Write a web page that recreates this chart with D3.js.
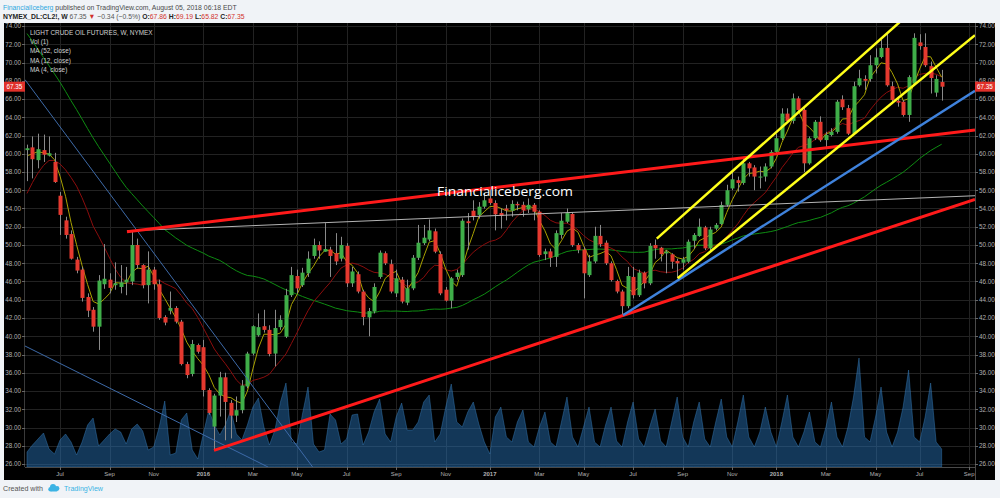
<!DOCTYPE html>
<html><head><meta charset="utf-8">
<script src="https://cdn.jsdelivr.net/npm/d3@7"></script>
<style>
html,body{margin:0;padding:0;background:#f0f3f7;}
svg{display:block;font-family:"Liberation Sans",Arial,sans-serif;}
</style></head><body>
<svg id="c" width="1000" height="498"></svg>
<script>
// ---------- DATA ----------
const firstBarDate = "2015-05-25"; // weekly bars (Mondays)
const open = [60.4,60.7,59.3,60.4,59.8,59.1,55.4,52.7,51.2,48.4,
47.3,44.3,42.9,41.05,45.7,46.2,45.6,45.4,45.9,46.0,
50.0,47.8,45.6,47.3,45.7,42.1,42.8,43.1,41.6,36.95,
35.86,39.04,38.8,34.1,30.1,33.5,35.5,32.7,31.3,31.9,
34.5,38.1,40.1,41.1,40.7,38.1,41.0,39.95,44.5,46.6,
45.6,46.9,48.8,50.0,49.27,49.5,49.1,48.5,49.9,45.8,
46.8,44.9,42.07,42.7,46.5,49.1,47.9,44.7,46.2,43.68,
45.25,48.6,50.2,50.6,51.5,49.0,45.1,43.9,46.5,46.7,
52.6,53.76,53.3,54.2,55.1,54.6,53.5,54.0,53.76,54.5,
54.4,53.9,54.4,53.65,49.0,49.3,48.7,51.1,52.55,53.4,
50.0,49.5,46.7,48.2,51.0,50.25,48.0,46.05,44.9,43.3,
46.5,44.5,46.97,45.8,50.0,49.7,49.08,48.98,48.25,48.06,
48.17,50.47,50.98,51.93,49.63,51.8,52.3,54.4,56.2,57.1,
56.8,58.95,58.5,57.4,57.5,58.6,60.2,61.7,64.4,63.6,
66.07,64.8,58.95,61.7,63.5,61.5,62.05,62.4,65.96,65.0,
62.2,67.5,68.2,68.2,69.7,70.6,71.6,67.4,65.8,65.7,
64.25,67.7,72.2,71.7,69.6,66.7,67.86];
const high = [61.0,61.9,62.2,62.1,61.9,60.1,55.8,53.1,51.6,48.7,
47.6,44.7,43.2,46.7,50.1,46.9,48.1,47.8,47.6,51.6,
50.7,47.9,49.3,47.6,46.2,42.3,44.9,43.3,41.8,37.2,
39.6,39.2,39.6,34.3,33.7,36.1,36.0,33.0,33.4,35.2,
38.3,41.2,42.5,42.9,41.2,42.9,42.3,45.2,47.6,47.3,
47.5,49.3,50.7,50.4,52.4,49.8,51.3,50.9,50.2,47.6,
47.1,45.1,43.1,45.8,49.4,49.3,48.4,47.3,46.5,46.2,
48.9,52.2,52.2,52.8,51.8,49.3,45.4,46.5,47.3,52.9,
53.5,54.9,54.7,55.7,56.3,54.9,54.0,54.4,54.9,54.75,
54.75,55.1,54.6,53.8,49.6,49.6,51.6,53.5,54.0,53.6,
50.2,49.8,48.9,52.0,52.2,50.5,48.2,46.2,45.1,47.6,
47.6,47.3,47.1,50.2,50.6,49.8,49.45,49.1,48.5,48.7,
50.6,51.3,52.9,52.1,52.0,52.4,54.75,56.6,58.0,57.5,
59.5,59.1,58.75,58.6,58.95,60.4,62.2,64.98,64.98,66.6,
66.3,65.0,61.9,63.7,64.1,62.4,62.8,65.9,66.4,65.35,
67.9,69.2,68.6,70.8,71.55,72.5,73.2,67.9,66.25,65.9,
68.6,73.2,73.1,73.2,70.1,68.6,69.19];
const low = [57.0,57.3,58.4,59.1,59.7,56.8,51.1,50.7,48.4,46.9,
43.8,42.1,40.5,38.5,45.2,44.7,45.1,44.7,44.5,45.6,
47.4,45.25,43.6,45.1,41.8,41.2,42.4,41.4,36.8,35.4,
35.6,38.1,33.4,31.4,27.5,31.2,28.6,28.8,30.6,31.55,
34.3,37.9,39.95,40.4,37.8,36.7,40.7,39.8,44.3,44.7,
45.4,46.5,48.5,48.5,49.27,46.5,47.8,48.2,45.4,45.4,
44.7,41.2,40.0,42.5,46.3,47.8,44.7,44.3,43.6,43.4,
45.05,48.35,50.0,50.4,49.1,44.5,43.8,43.06,46.2,46.5,
49.5,52.7,52.9,54.0,54.4,51.6,51.8,52.7,53.1,53.8,
53.1,53.5,52.7,48.7,48.35,47.6,47.6,50.7,52.4,49.8,
49.1,44.15,46.5,48.0,49.8,47.8,46.0,44.7,42.3,43.06,
44.15,44.3,45.25,45.6,48.5,48.2,46.9,47.4,46.35,47.3,
48.0,49.6,50.9,49.45,49.45,51.6,52.2,54.2,56.0,55.85,
56.6,57.5,56.0,56.2,56.95,58.4,60.0,61.5,63.4,63.3,
64.6,58.0,58.8,61.5,61.3,60.6,61.9,62.2,64.8,62.05,
62.05,67.35,67.0,67.9,68.8,70.46,67.35,65.7,65.16,64.07,
63.5,67.5,71.4,69.5,66.6,66.25,65.82];
const close = [60.6,59.4,60.5,59.9,60.05,56.9,53.3,51.1,48.5,47.2,
44.2,42.8,41.05,46.1,46.3,45.3,45.8,45.9,46.2,50.0,
47.8,45.6,47.3,45.7,42.0,41.5,43.1,41.6,36.95,35.75,
39.15,38.3,34.1,31.6,33.5,35.5,32.8,31.3,31.9,34.6,
38.1,41.1,41.0,40.7,38.05,40.9,41.8,44.5,46.7,45.25,
46.97,48.5,50.0,49.4,49.56,48.8,48.2,50.0,45.8,47.1,
44.9,42.1,42.76,45.4,49.16,48.0,44.9,46.35,43.8,45.25,
48.6,50.25,50.8,51.6,49.27,44.7,43.9,46.35,46.97,52.66,
52.4,53.1,54.2,54.9,54.6,53.36,53.2,53.8,54.5,54.35,
53.8,54.4,53.65,48.9,49.3,48.6,51.3,52.66,53.5,50.0,
49.45,46.9,48.2,51.0,50.1,48.0,46.16,44.9,43.3,46.6,
44.5,46.97,45.8,49.9,49.63,49.0,49.27,48.17,47.99,48.43,
50.36,51.1,52.0,49.63,51.7,52.2,54.38,56.0,57.2,56.8,
58.95,58.4,57.5,57.5,58.6,60.2,61.7,64.4,63.6,66.07,
64.8,58.95,61.7,63.5,61.5,62.05,62.4,65.7,65.1,62.2,
67.4,68.27,68.0,69.7,70.56,71.6,67.5,65.9,65.6,64.25,
68.4,72.7,71.8,69.7,68.3,68.2,67.35];
// weekly closes before the visible window (feed the moving averages)
const priorCloses = [102.7,106.9,107.3,105.7,104.1,100.8,103.1,102.1,97.9,97.7,
97.4,93.7,96.0,93.3,92.3,92.4,93.5,89.7,85.8,82.8,
81.0,80.5,78.7,75.8,76.5,66.2,65.8,57.8,57.1,54.7,
52.7,48.4,48.7,45.6,48.2,51.7,52.8,50.3,49.8,49.6,
45.0,48.0,50.0,53.5,56.8,58.0,58.8,58.6,58.5,59.6,60.4];
// volume (thousand contracts, estimated)
const volume = [150,220,280,340,180,130,270,330,250,120,
250,420,490,210,270,330,380,350,230,380,
430,360,170,200,400,660,120,140,470,540,
170,80,330,570,420,320,420,570,330,270,
420,600,690,400,220,370,650,840,250,230,
530,800,230,150,170,530,470,230,280,520,
530,220,350,550,680,330,250,500,640,370,
370,450,650,720,250,330,600,830,450,400,
550,650,430,250,130,500,600,300,250,450,
570,250,200,400,550,250,200,450,700,300,
200,400,600,250,200,420,600,260,200,450,
650,280,200,400,580,260,200,450,700,300,
200,450,650,280,200,450,680,300,200,450,
720,300,200,350,600,350,200,450,720,300,
200,350,550,250,200,400,650,300,200,400,
700,1090,300,250,500,800,350,200,350,600,
970,300,250,500,840,250,180];
const priceTicks = [26,28,30,32,34,36,38,40,42,44,46,48,50,52,54,56,58,60,62,64,66,68,70,72,74];
const tickMonths = ["2015-07","2015-09","2015-11","2016-01","2016-03","2016-05","2016-07","2016-09","2016-11","2017-01","2017-03","2017-05","2017-07","2017-09","2017-11","2018-01","2018-03","2018-05","2018-07","2018-09"];
const tickLabels = ["Jul","Sep","Nov","2016","Mar","May","Jul","Sep","Nov","2017","Mar","May","Jul","Sep","Nov","2018","Mar","May","Jul","Sep"];
const maPeriods = [52,12,4];
const legendLines = ["LIGHT CRUDE OIL FUTURES, W, NYMEX","Vol (1)","MA (52, close)","MA (12, close)","MA (4, close)"];
// drawn trend lines: [bar index, price]
const upperRedLine = [[18.15,51.46],[172.05,62.6]];
const lowerRedLine = [[33.94,27.5],[172.05,55.0]];
const grayLine = [[18.15,51.55],[172.05,55.4]];
const blueTrendLine = [[108.17,42.3],[172.05,66.9]];
const yellowUpperLine = [[114.3,50.7],[160,75.3]];
const yellowLowerLine = [[118.1,46.35],[172.05,73.0]];
const thinBlueLine1 = [[-0.36,68.12],[52.3,25.3]];
const thinBlueLine2 = [[-0.36,38.93],[43.74,25.67]];
const lastPrice = 67.35;
const header1 = [["FinancialIceberg","#2fa8e0","normal"],[" published on TradingView.com, August 05, 2018 06:18 EDT","#4a4a4a","normal"]];
const header2 = [["NYMEX_DL:CL2!, W","#222","bold"],[" 67.35 ","#555","normal"],["\u25BC","#d0302a","normal"],[" \u22120.34 (\u22120.5%) ","#555","normal"],
  ["O:","#222","bold"],["67.86","#d0302a","normal"],[" H:","#222","bold"],["69.19","#d0302a","normal"],[" L:","#222","bold"],["65.82","#d0302a","normal"],[" C:","#222","bold"],["67.35","#d0302a","normal"]];

// ---------- LAYOUT ----------
const PL=25, PR=975, PT=23, PB=467;
const svg = d3.select('#c');
const n = close.length;
const x = d3.scaleLinear().domain([-0.36,172.05]).range([PL,PR]);
const y = d3.scaleLinear().domain([26,74]).range([464,26]);
const vy = d3.scaleLinear().domain([0,1250]).range([PB,PB-125]);
const start = Date.parse(firstBarDate+"T00:00:00Z");
const WEEK = 7*864e5;
const monthBar = m => Math.ceil((Date.parse(m+"-01T00:00:00Z")-start)/WEEK);

const defs = svg.append('defs');
defs.append('clipPath').attr('id','plot').append('rect').attr('x',PL).attr('y',PT).attr('width',PR-PL).attr('height',PB-PT);
defs.append('clipPath').attr('id','pane').append('rect').attr('x',4).attr('y',PT).attr('width',991).attr('height',457);
defs.append('clipPath').attr('id','xax').append('rect').attr('x',4).attr('y',PB).attr('width',PR-4).attr('height',13);

// pane
svg.append('rect').attr('x',4).attr('y',PT).attr('width',991).attr('height',457).attr('fill','#000');

// grid
const grid = svg.append('g').attr('clip-path','url(#plot)');
grid.selectAll('line.h').data(priceTicks).join('line')
  .attr('x1',PL).attr('x2',PR).attr('y1',d=>Math.round(y(d))+0.5).attr('y2',d=>Math.round(y(d))+0.5)
  .attr('stroke','#222').attr('stroke-width',1);
grid.selectAll('line.v').data(tickMonths).join('line')
  .attr('x1',d=>Math.round(x(monthBar(d)))+0.5).attr('x2',d=>Math.round(x(monthBar(d)))+0.5)
  .attr('y1',PT).attr('y2',PB).attr('stroke','#222').attr('stroke-width',1);

// volume
const plot = svg.append('g').attr('clip-path','url(#plot)');
plot.append('path').datum(volume)
  .attr('d',d3.area().x((d,i)=>x(i)).y0(PB).y1(d=>vy(d)))
  .attr('fill','rgba(38,110,175,0.5)').attr('stroke','rgba(60,135,200,0.5)').attr('stroke-width',0.8);

// moving averages
const all = priorCloses.concat(close);
const sma = p => close.map((c,i)=>{const j=i+priorCloses.length; return d3.mean(all.slice(j-p+1,j+1));});
const maColors = {52:'#0e8c12',12:'#8c0d0d',4:'#a8a100'};
maPeriods.forEach(p=>{
  plot.append('path').datum(sma(p))
    .attr('d',d3.line().x((d,i)=>x(i)).y(d=>y(d)))
    .attr('fill','none').attr('stroke',maColors[p]).attr('stroke-width',1);
});

// candles
const idx = d3.range(n);
const cx = i => Math.round(x(i));
plot.selectAll('line.wick').data(idx).join('line')
  .attr('x1',i=>cx(i)+0.5).attr('x2',i=>cx(i)+0.5)
  .attr('y1',i=>y(high[i])).attr('y2',i=>y(low[i]))
  .attr('stroke','#8a8a8a').attr('stroke-width',1);
plot.selectAll('rect.body').data(idx).join('rect')
  .attr('x',i=>cx(i)-1.5).attr('width',4)
  .attr('y',i=>y(Math.max(open[i],close[i])))
  .attr('height',i=>Math.max(1,Math.abs(y(open[i])-y(close[i]))))
  .attr('fill',i=>close[i]>=open[i]?'#3fae49':'#e5392f');

// trend lines
const tl = d3.line().x(d=>x(d[0])).y(d=>y(d[1]));
const drawLine = (pts,color,w)=>plot.append('path').datum(pts).attr('d',tl).attr('fill','none').attr('stroke',color).attr('stroke-width',w);
drawLine(thinBlueLine1,'#3d6aa8',1);
drawLine(thinBlueLine2,'#3d6aa8',1);
drawLine(grayLine,'#b4b4b4',1);
drawLine(upperRedLine,'#ff1a1a',3);
drawLine(lowerRedLine,'#ff1a1a',3);
drawLine(blueTrendLine,'#3f82dc',2.5);
drawLine(yellowUpperLine,'#ffff1a',2.5);
drawLine(yellowLowerLine,'#ffff1a',2.5);

// watermark
svg.append('text').attr('x',437).attr('y',196).attr('fill','#fff')
  .attr('font-family','"Open Sans",sans-serif').attr('font-size',13.5)
  .attr('textLength',136).attr('lengthAdjust','spacingAndGlyphs').text('Financialiceberg.com');

// legend
svg.append('g').selectAll('text').data(legendLines).join('text')
  .attr('x',30).attr('y',(d,i)=>35+i*9.2).attr('fill','#d0d0d0').attr('font-size',6.4)
  .text(d=>d);

// axes lines
svg.append('line').attr('x1',PR+0.5).attr('x2',PR+0.5).attr('y1',PT).attr('y2',480).attr('stroke','#4a4a4a');
svg.append('line').attr('x1',PL-0.5).attr('x2',PL-0.5).attr('y1',PT).attr('y2',PB).attr('stroke','#3a3a3a');
svg.append('line').attr('x1',PL).attr('x2',PR).attr('y1',PB+0.5).attr('y2',PB+0.5).attr('stroke','#4a4a4a');

// price labels (both sides)
const pane = svg.append('g').attr('clip-path','url(#pane)');
pane.selectAll('text.r').data(priceTicks).join('text')
  .attr('x',979).attr('y',d=>y(d)+2.3).attr('fill','#b0b0b0').attr('font-size',6.3).text(d=>d.toFixed(2));
pane.selectAll('line.rt').data(priceTicks).join('line')
  .attr('x1',PR).attr('x2',PR+3).attr('y1',d=>Math.round(y(d))+0.5).attr('y2',d=>Math.round(y(d))+0.5).attr('stroke','#666');
pane.selectAll('text.l').data(priceTicks).join('text')
  .attr('x',21).attr('text-anchor','end').attr('y',d=>y(d)+2.3).attr('fill','#b0b0b0').attr('font-size',6.3).text(d=>d.toFixed(2));
pane.selectAll('line.lt').data(priceTicks).join('line')
  .attr('x1',PL-3).attr('x2',PL).attr('y1',d=>Math.round(y(d))+0.5).attr('y2',d=>Math.round(y(d))+0.5).attr('stroke','#666');
// last price markers
[[PR,20],[4,21]].forEach(([bx,bw])=>{
  pane.append('rect').attr('x',bx).attr('y',y(lastPrice)-5).attr('width',bw).attr('height',10).attr('fill','#e0302a');
  pane.append('text').attr('x',bx+bw/2).attr('y',y(lastPrice)+2.3).attr('text-anchor','middle').attr('fill','#fff').attr('font-size',6.3).text(lastPrice.toFixed(2));
});

// time labels
const xa = svg.append('g').attr('clip-path','url(#xax)');
xa.selectAll('text').data(tickMonths).join('text')
  .attr('x',d=>x(monthBar(d))).attr('y',476).attr('text-anchor','middle')
  .attr('fill','#b0b0b0').attr('font-size',6).attr('font-weight',(d,i)=>/^\d/.test(tickLabels[i])?'bold':'normal')
  .text((d,i)=>tickLabels[i]);
xa.selectAll('line').data(tickMonths).join('line')
  .attr('x1',d=>Math.round(x(monthBar(d)))+0.5).attr('x2',d=>Math.round(x(monthBar(d)))+0.5)
  .attr('y1',PB).attr('y2',PB+3).attr('stroke','#666');

// header lines: natural tspan flow, then squeezed horizontally to the reference width
function headerLine(segs, yPos, width){
  const g = svg.append('g');
  const t = g.append('text').attr('x',0).attr('y',0).attr('font-size',7.5).style('white-space','pre');
  segs.forEach(s=>t.append('tspan').attr('fill',s[1]).attr('font-weight',s[2]).text(s[0]));
  const w = t.node().getComputedTextLength();
  g.attr('transform',`translate(3,${yPos}) scale(${width/w},1)`);
}
headerLine(header1,10,234);
headerLine(header2,18.5,242);

// footer
svg.append('text').attr('x',3).attr('y',491).attr('font-size',7.2).attr('fill','#555').attr('textLength',40).attr('lengthAdjust','spacingAndGlyphs').text('Created with');
const logo = svg.append('g').attr('transform','translate(48,484)').attr('fill','#3bb3e4');
logo.append('circle').attr('cx',5).attr('cy',3).attr('r',3);
logo.append('circle').attr('cx',9).attr('cy',4.5).attr('r',2.4);
logo.append('circle').attr('cx',2.5).attr('cy',5.2).attr('r',2.2);
logo.append('rect').attr('x',2.5).attr('y',5).attr('width',7).attr('height',2.6).attr('rx',1);
svg.append('text').attr('x',64).attr('y',491).attr('font-size',7.2).attr('fill','#3bb3e4').attr('textLength',39).attr('lengthAdjust','spacingAndGlyphs').text('TradingView');
</script></body></html>
